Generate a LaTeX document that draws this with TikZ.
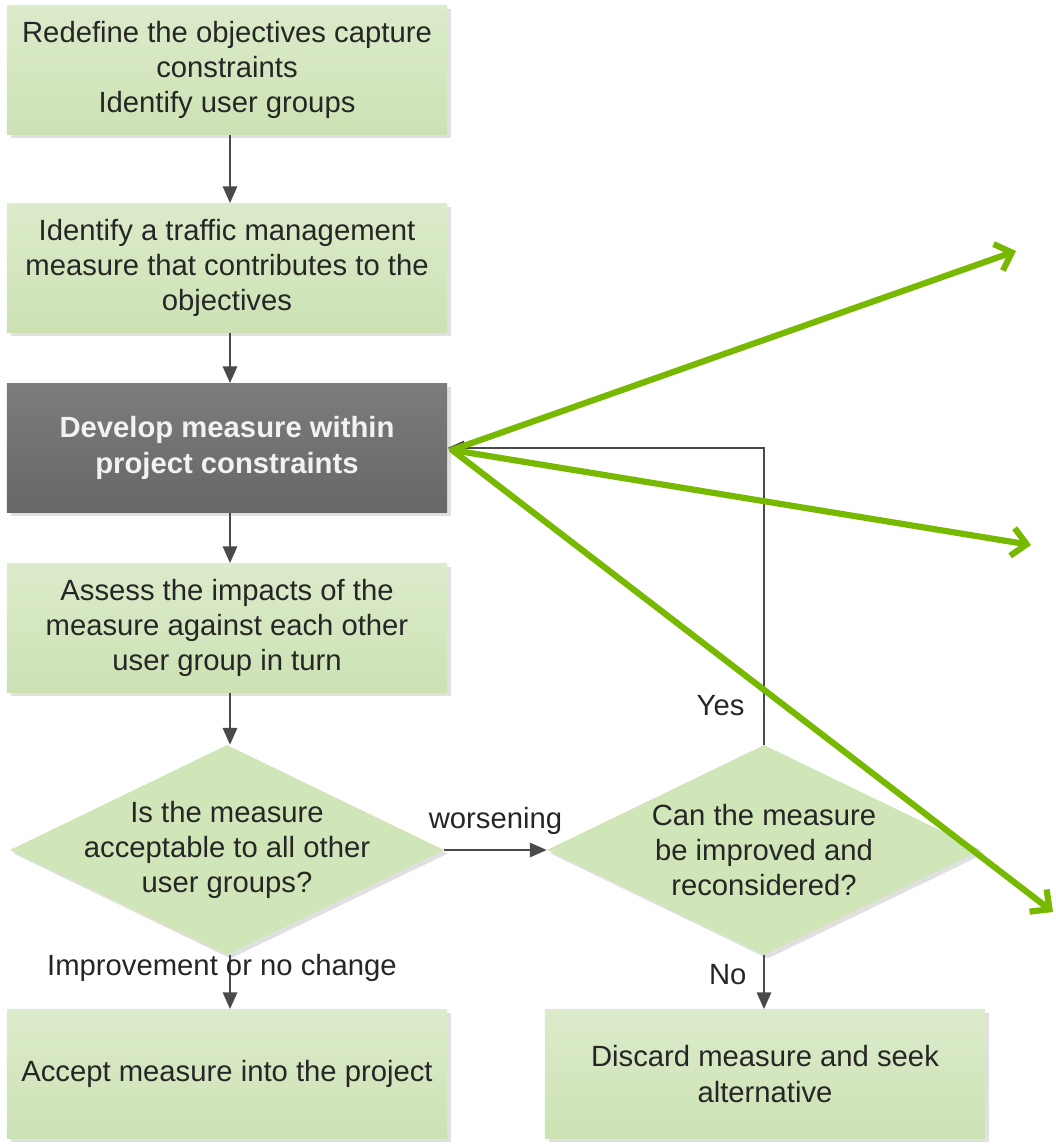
\documentclass[tikz,border=0pt]{standalone}
\usepackage{fontspec}
\setmainfont{Liberation Sans}
\usetikzlibrary{shapes.geometric,arrows.meta,shadows}
\definecolor{boxtop}{HTML}{DCEBCB}
\definecolor{boxbot}{HTML}{CCE2B3}
\definecolor{decfill}{HTML}{D0E5B8}
\definecolor{darktop}{HTML}{7C7C7C}
\definecolor{darkbot}{HTML}{676767}
\definecolor{linegray}{HTML}{4A4A4A}
\definecolor{pointgreen}{HTML}{76B900}
\begin{document}
\begin{tikzpicture}[x=0.025cm,y=-0.025cm,
	every node/.style={font=\fontsize{20.8}{25}\selectfont, text=black!85},
	boxstep/.style={rectangle, top color=boxtop, bottom color=boxbot, minimum width=11cm, minimum height=3.23cm, align=center, inner sep=0pt,
		drop shadow={shadow xshift=0.09cm, shadow yshift=-0.09cm, fill=black, opacity=0.12}},
	devstep/.style={boxstep, top color=darktop, bottom color=darkbot, text=white!95!black, font=\fontsize{20.8}{25}\selectfont\bfseries},
	decision/.style={diamond, fill=decfill, minimum width=10.85cm, minimum height=5.25cm, inner sep=0pt,
		drop shadow={shadow xshift=0.09cm, shadow yshift=-0.09cm, fill=black, opacity=0.12}},
	flow/.style={-{Triangle[length=0.42cm,width=0.36cm]}, linegray, line width=1.3pt},
	pointer/.style={-{Straight Barb[length=0.36cm,width=0.7cm]}, pointgreen, line width=4.4pt, line cap=round}]
	\useasboundingbox (0,0) rectangle (1056,1145);
	% main column
	\node[boxstep] (objectives) at (227,70) {Redefine the objectives capture\\constraints\\Identify user groups};
	\node[boxstep] (identify) at (227,268) {Identify a traffic management\\measure that contributes to the\\objectives};
	\node[devstep] (develop) at (227,448) {Develop measure within\\project constraints};
	\node[boxstep] (assess) at (227,628) {Assess the impacts of the\\measure against each other\\user group in turn};
	\node[decision, label={[align=center]center:Is the measure\\acceptable to all other\\user groups?}] (acceptable) at (227,850) {};
	\node[boxstep] (accept) at (227,1074) {Accept measure into the project};
	% right column
	\node[decision, label={[align=center]center:Can the measure\\be improved and\\reconsidered?}] (improve) at (764,850) {};
	\node[boxstep] (discard) at (765,1074) {Discard measure and seek\\alternative};
	% connectors
	\draw[flow] (objectives.south -| 230,0) -- (identify.north -| 230,0);
	\draw[flow] (identify.south -| 230,0) -- (develop.north -| 230,0);
	\draw[flow] (develop.south -| 230,0) -- (assess.north -| 230,0);
	\draw[flow] (assess.south -| 230,0) -- (acceptable.north -| 230,0);
	\draw[flow] (acceptable.east) -- (improve.west) node[midway, above=0.25cm] (worse) {worsening};
	\draw[flow] (acceptable.south -| 230,0) -- (accept.north -| 230,0);
	\node (better) at (222,968) {Improvement or no change};
	\draw[flow] (improve.south) -- (discard.north -| improve.south) node[pos=0.35, left=0.3cm] (no) {No};
	\draw[flow] (improve.north) |- (develop.east) node[pos=0.066, left=0.35cm] (yes) {Yes};
	% green pointers
	\coordinate (hub) at (452,450);
	\coordinate (tipA) at (1016,251);
	\coordinate (tipB) at (1031,545);
	\coordinate (tipC) at (1053,912);
	\draw[pointer] (hub) -- (tipA);
	\draw[pointer] (hub) -- (tipB);
	\draw[pointer] (hub) -- (tipC);
\end{tikzpicture}
\end{document}
